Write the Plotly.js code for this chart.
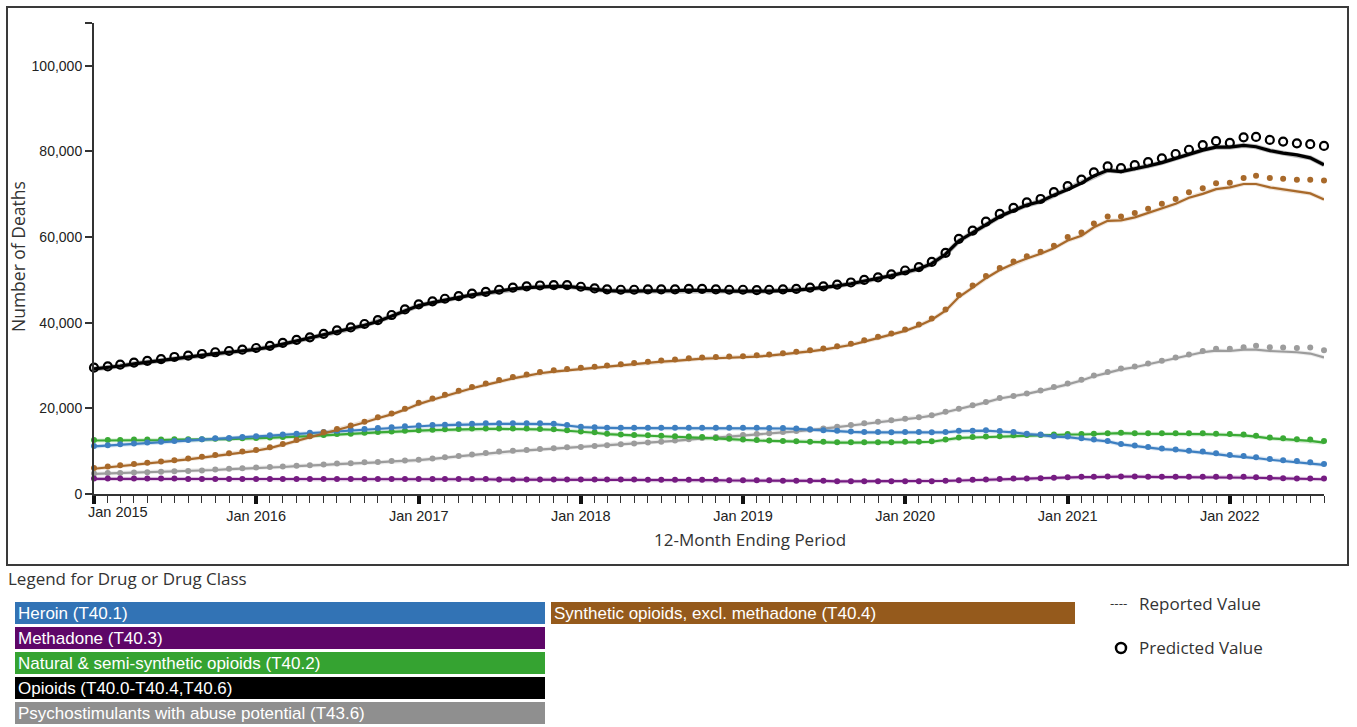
<!DOCTYPE html>
<html>
<head>
<meta charset="utf-8">
<script src="https://cdn.plot.ly/plotly-3.0.1.min.js"></script>
<style>
  html, body { margin: 0; padding: 0; background: #fff; }
  #chart { width: 1357px; height: 727px; }
</style>
</head>
<body>
<div id="chart"></div>
<script>
// 12-month ending periods, Jan 2015 through Aug 2022 (monthly)
const firstPeriod = [2015, 1];
const periodCount = 92;
const periods = [];
for (let i = 0; i < periodCount; i++) {
  const m = firstPeriod[1] - 1 + i;
  const y = firstPeriod[0] + Math.floor(m / 12);
  const mm = (m % 12) + 1;
  periods.push(y + '-' + (mm < 10 ? '0' : '') + mm + '-01');
}

const yearTickValues = ['2015-01-01','2016-01-01','2017-01-01','2018-01-01','2019-01-01','2020-01-01','2021-01-01','2022-01-01'];
const yearTickLabels = ['', 'Jan 2016', 'Jan 2017', 'Jan 2018', 'Jan 2019', 'Jan 2020', 'Jan 2021', 'Jan 2022'];
const firstYearLabel = 'Jan 2015';

const deathTickValues = [0, 20000, 40000, 60000, 80000, 100000, 110000];
const deathTickLabels = ['0', '20,000', '40,000', '60,000', '80,000', '100,000', ''];

// Heroin (T40.1)
const heroinPredicted = [
  11200,11400,11600,11800,12000,12200,12400,12600,12800,13000,13100,13300,
  13500,13700,13900,14100,14300,14500,14800,15000,15200,15400,15600,15800,
  16000,16100,16200,16300,16400,16500,16500,16500,16500,16500,16400,16100,
  15700,15600,15500,15500,15500,15500,15500,15500,15500,15500,15500,15500,
  15500,15500,15400,15400,15300,15100,14900,14800,14600,14500,14500,14400,
  14500,14500,14400,14500,14800,14800,14900,14700,14500,14100,13900,13500,
  13400,13000,12700,12400,11700,11300,11000,10600,10400,10100,9900,9500,
  9100,8900,8600,8200,7900,7700,7400,7000];
const heroinReported = [
  11100,11300,11500,11700,11900,12100,12300,12500,12700,12900,13000,13200,
  13400,13600,13800,14000,14200,14400,14700,14900,15100,15300,15500,15700,
  15900,16000,16100,16200,16300,16400,16400,16400,16400,16400,16300,16000,
  15600,15500,15400,15400,15400,15400,15400,15400,15400,15400,15400,15400,
  15400,15400,15300,15300,15200,15000,14800,14700,14500,14400,14400,14300,
  14400,14400,14300,14400,14700,14700,14800,14600,14400,14000,13800,13400,
  13300,12900,12600,12300,11600,11200,10900,10500,10300,10000,9700,9300,
  8900,8700,8400,8000,7700,7500,7200,6800];

// Methadone (T40.3)
const methadonePredicted = [
  3600,3600,3600,3600,3600,3600,3600,3500,3500,3500,3500,3500,
  3500,3500,3500,3500,3500,3500,3500,3500,3500,3500,3500,3500,
  3500,3500,3500,3500,3500,3500,3400,3400,3400,3400,3400,3400,
  3400,3400,3400,3400,3400,3300,3300,3300,3300,3300,3300,3200,
  3200,3200,3200,3100,3100,3100,3100,3000,3000,3000,3000,3000,
  3000,3000,3000,3100,3200,3300,3400,3500,3600,3600,3700,3800,
  3900,4000,4000,4100,4100,4100,4000,4000,4000,4000,4000,4000,
  4000,4000,3900,3800,3700,3600,3600,3600];
const methadoneReported = [
  3550,3550,3550,3550,3550,3550,3550,3450,3450,3450,3450,3450,
  3450,3450,3450,3450,3450,3450,3450,3450,3450,3450,3450,3450,
  3450,3450,3450,3450,3450,3450,3350,3350,3350,3350,3350,3350,
  3350,3350,3350,3350,3350,3250,3250,3250,3250,3250,3250,3150,
  3150,3150,3150,3050,3050,3050,3050,2950,2950,2950,2950,2950,
  2950,2950,2950,3050,3150,3250,3350,3450,3550,3550,3650,3750,
  3850,3950,3950,4050,4050,4050,3950,3950,3950,3950,3950,3900,
  3900,3900,3800,3700,3600,3500,3500,3450];

// Natural & semi-synthetic opioids (T40.2)
const naturalPredicted = [
  12600,12600,12600,12700,12700,12700,12800,12800,12800,12900,12900,13000,
  13100,13200,13300,13500,13600,13800,14000,14100,14300,14500,14600,14800,
  14900,15000,15100,15200,15300,15300,15300,15300,15300,15200,15100,14900,
  14600,14400,14100,13900,13800,13700,13600,13500,13400,13300,13100,12900,
  12700,12600,12500,12400,12300,12200,12200,12100,12100,12100,12100,12100,
  12200,12200,12300,12700,13200,13300,13400,13500,13700,13800,13800,13900,
  14000,14000,14100,14200,14300,14200,14200,14200,14200,14200,14200,14100,
  14000,13900,13600,13200,13000,12800,12700,12400];
const naturalReported = [
  12500,12500,12500,12600,12600,12600,12700,12700,12700,12800,12800,12900,
  13000,13100,13200,13400,13500,13700,13900,14000,14200,14400,14500,14700,
  14800,14900,15000,15100,15200,15200,15200,15200,15200,15100,15000,14800,
  14500,14300,14000,13800,13700,13600,13500,13400,13300,13200,13000,12800,
  12600,12500,12400,12300,12200,12100,12100,12000,12000,12000,12000,12000,
  12100,12100,12200,12600,13100,13200,13300,13400,13600,13700,13700,13800,
  13900,13900,14000,14100,14200,14100,14100,14100,14100,14100,14000,13900,
  13800,13700,13400,13000,12800,12600,12400,12000];

// Opioids (T40.0-T40.4,T40.6)
const opioidsPredicted = [
  29500,29800,30200,30700,31100,31500,32000,32300,32700,33100,33400,33700,
  34100,34600,35300,36000,36600,37400,38200,38900,39700,40600,41800,43100,
  44300,45000,45600,46200,46800,47200,47700,48200,48500,48700,48800,48800,
  48400,48000,47800,47700,47700,47800,47800,47800,47900,47900,47800,47700,
  47700,47600,47700,47800,47900,48200,48500,48900,49400,50000,50600,51300,
  52200,53000,54200,56300,59600,61500,63600,65400,66800,68100,68900,70500,
  71900,73400,75100,76500,76100,76800,77500,78400,79400,80400,81500,82400,
  82000,83300,83400,82700,82300,81900,81700,81300];
const opioidsReported = [
  29200,29500,29900,30400,30800,31200,31700,32000,32400,32800,33100,33400,
  33800,34300,35000,35700,36300,37100,37900,38600,39400,40300,41500,42800,
  44000,44700,45300,45900,46500,46900,47400,47900,48200,48400,48500,48500,
  48100,47700,47500,47400,47400,47500,47500,47500,47600,47600,47500,47400,
  47400,47300,47400,47500,47600,47900,48200,48600,49100,49700,50300,51000,
  51800,52600,53800,56000,59100,61000,63000,64800,66200,67500,68300,69800,
  71100,72600,74300,75600,75300,75900,76600,77400,78400,79300,80300,81000,
  81000,81400,81100,80200,79600,79200,78500,76900];

// Psychostimulants with abuse potential (T43.6)
const psychoPredicted = [
  4800,4900,4900,5000,5100,5200,5300,5400,5500,5700,5900,6000,
  6200,6300,6400,6600,6700,6900,7100,7200,7400,7500,7700,7800,
  8000,8300,8600,8900,9200,9600,9900,10100,10300,10500,10700,10900,
  11000,11200,11400,11600,11800,12000,12200,12500,12800,13100,13300,13500,
  13800,14000,14200,14500,14700,15000,15300,15700,16100,16500,16900,17200,
  17600,17900,18400,19200,19900,20700,21500,22400,22900,23500,24200,25000,
  25800,26700,27700,28500,29300,29800,30500,31100,31900,32600,33400,33900,
  33900,34300,34600,34300,34200,34100,34200,33600];
const psychoReported = [
  4700,4800,4800,4900,5000,5100,5200,5300,5400,5600,5800,5900,
  6100,6200,6300,6500,6600,6800,7000,7100,7300,7400,7600,7700,
  7900,8200,8500,8800,9100,9500,9800,10000,10200,10400,10600,10800,
  10900,11100,11300,11500,11700,11900,12100,12400,12700,13000,13200,13400,
  13700,13900,14100,14400,14600,14900,15200,15600,16000,16400,16800,17100,
  17500,17800,18300,19100,19800,20600,21400,22300,22800,23400,24100,24800,
  25600,26500,27500,28300,29100,29600,30300,30900,31700,32400,33100,33500,
  33400,33700,33700,33400,33300,33100,32800,31900];

// Synthetic opioids, excl. methadone (T40.4)
const synthPredicted = [
  6100,6400,6700,7000,7300,7600,7900,8300,8700,9100,9500,9900,
  10300,10900,11700,12600,13500,14400,15200,16000,16900,17900,18800,19900,
  21300,22300,23200,24100,25000,25800,26600,27300,27900,28500,28900,29200,
  29500,29700,30000,30300,30600,30900,31200,31400,31700,31900,32000,32100,
  32200,32400,32600,32900,33200,33600,34000,34500,35100,35900,36700,37500,
  38400,39600,41000,43100,46500,48700,50900,52800,54300,55500,56600,58000,
  60000,61100,63200,64800,64800,65600,66600,67800,68900,70500,71400,72600,
  72700,73800,74300,73800,73600,73400,73400,73200];
const synthReported = [
  5900,6200,6500,6800,7100,7400,7700,8100,8500,8900,9300,9700,
  10100,10700,11500,12400,13300,14200,15000,15800,16700,17700,18600,19700,
  21000,22000,22900,23800,24700,25500,26300,27000,27600,28200,28600,28900,
  29200,29400,29700,30000,30300,30600,30900,31100,31400,31600,31700,31800,
  31900,32100,32300,32600,32900,33300,33700,34200,34800,35600,36400,37200,
  38100,39300,40700,42800,46000,48200,50400,52300,53800,55000,56100,57400,
  59200,60300,62300,63800,63900,64600,65600,66700,67800,69200,70100,71200,
  71600,72400,72400,71600,71100,70700,70200,68800];

// Drug classes: legend label, legend swatch, line colour, series
const drugNames = [
  'Heroin (T40.1)',
  'Methadone (T40.3)',
  'Natural & semi-synthetic opioids (T40.2)',
  'Opioids (T40.0-T40.4,T40.6)',
  'Psychostimulants with abuse potential (T43.6)',
  'Synthetic opioids, excl. methadone (T40.4)'
];
const drugSwatchColors = ['#3273b5', '#5e0668', '#35a331', '#000000', '#8f8f8f', '#955a1c'];
const drugLineColors   = ['#3d7fc1', '#761c82', '#3aaa35', '#000000', '#9c9c9c', '#a8692a'];
const drugReported  = [heroinReported, methadoneReported, naturalReported, opioidsReported, psychoReported, synthReported];
const drugPredicted = [heroinPredicted, methadonePredicted, naturalPredicted, opioidsPredicted, psychoPredicted, synthPredicted];

const legendTitle = 'Legend for Drug or Drug Class';
const reportedLabel = 'Reported Value';
const predictedLabel = 'Predicted Value';
const xTitle = '12-Month Ending Period';
const yTitle = 'Number of Deaths';

// ---- traces: a soft underlay, the reported line, then predicted markers ----
const drawOrder = [4, 1, 2, 0, 5, 3];
const traces = [];
drawOrder.forEach(function (k) {
  const isTotal = k === 3;
  traces.push({
    x: periods, y: drugReported[k], type: 'scatter', mode: 'lines',
    line: { color: drugLineColors[k], width: isTotal ? 5 : 4.2 }, opacity: isTotal ? 0.25 : 0.18,
    hoverinfo: 'skip', showlegend: false, cliponaxis: false
  });
  traces.push({
    x: periods, y: drugReported[k], type: 'scatter', mode: 'lines',
    name: drugNames[k] + ' ' + reportedLabel,
    line: { color: drugLineColors[k], width: isTotal ? 3.2 : 2.2 },
    showlegend: false, cliponaxis: false
  });
  traces.push({
    x: periods, y: drugPredicted[k], type: 'scatter', mode: 'markers',
    name: drugNames[k] + ' ' + predictedLabel,
    marker: isTotal
      ? { symbol: 'circle-open', size: 8, color: '#000', line: { width: 2.2, color: '#000' } }
      : { symbol: 'circle', size: 6, color: drugLineColors[k] },
    showlegend: false, cliponaxis: false
  });
});

// ---- page geometry (pixels -> paper) ----
const W = 1357, H = 727;
const px = function (x) { return x / W; };
const py = function (y) { return 1 - y / H; };

const shapes = [
  { type: 'rect', xref: 'paper', yref: 'paper', x0: px(7), x1: px(1348), y0: py(7), y1: py(565),
    line: { color: '#3a3a3a', width: 2 }, fillcolor: 'rgba(0,0,0,0)', layer: 'below' },
  { type: 'circle', xref: 'paper', yref: 'paper', x0: px(1116), x1: px(1126), y0: py(643), y1: py(653),
    line: { color: '#000', width: 2.5 }, fillcolor: '#fff' }
];
const annotations = [
  { xref: 'paper', yref: 'paper', x: px(118), y: py(512), text: firstYearLabel, showarrow: false,
    xanchor: 'center', yanchor: 'middle', font: { family: 'Liberation Sans, Arial, sans-serif', size: 14.5, color: '#222' } },
  { xref: 'paper', yref: 'paper', x: px(750), y: py(539), text: xTitle, showarrow: false,
    xanchor: 'center', yanchor: 'middle', font: { family: 'Open Sans, sans-serif', size: 17, color: '#333' } },
  { xref: 'paper', yref: 'paper', x: px(18), y: py(257), text: yTitle, showarrow: false, textangle: -90,
    xanchor: 'center', yanchor: 'middle', font: { family: 'Open Sans, sans-serif', size: 17.5, color: '#333' } },
  { xref: 'paper', yref: 'paper', x: px(6), y: py(578), text: legendTitle, showarrow: false,
    xanchor: 'left', yanchor: 'middle', font: { family: 'Open Sans, sans-serif', size: 17, color: '#333' } },
  { xref: 'paper', yref: 'paper', x: px(1108), y: py(603), text: '----', showarrow: false,
    xanchor: 'left', yanchor: 'middle', font: { family: 'Open Sans, sans-serif', size: 13.5, color: '#333' } },
  { xref: 'paper', yref: 'paper', x: px(1137), y: py(603), text: reportedLabel, showarrow: false,
    xanchor: 'left', yanchor: 'middle', font: { family: 'Open Sans, sans-serif', size: 17, color: '#333' } },
  { xref: 'paper', yref: 'paper', x: px(1137), y: py(647), text: predictedLabel, showarrow: false,
    xanchor: 'left', yanchor: 'middle', font: { family: 'Open Sans, sans-serif', size: 17, color: '#333' } }
];

// legend swatches: first five stacked on the left, the sixth to the right
const boxSlots = [
  [15, 545, 602], [15, 545, 627], [15, 545, 652], [15, 545, 677], [15, 545, 702], [551, 1075, 602]
];
drugNames.forEach(function (name, k) {
  const s = boxSlots[k];
  shapes.push({ type: 'rect', xref: 'paper', yref: 'paper', x0: px(s[0]), x1: px(s[1]),
    y0: py(s[2]), y1: py(s[2] + 22), fillcolor: drugSwatchColors[k], line: { width: 0 } });
  annotations.push({ xref: 'paper', yref: 'paper', x: px(s[0] + 1), y: py(s[2] + 11.5), text: name,
    showarrow: false, xanchor: 'left', yanchor: 'middle',
    font: { family: 'Liberation Sans Narrow, Arial Narrow, Liberation Sans, Arial, sans-serif', size: 17, color: '#fff' } });
});

const layout = {
  width: W, height: H,
  margin: { l: 0, r: 0, t: 0, b: 0 },
  paper_bgcolor: '#fff', plot_bgcolor: '#fff',
  showlegend: false,
  hovermode: 'closest',
  xaxis: {
    type: 'date',
    domain: [px(94), px(1324)],
    range: [periods[0], periods[periods.length - 1]],
    tickmode: 'array', tickvals: yearTickValues, ticktext: yearTickLabels,
    ticks: 'outside', ticklen: 8, tickwidth: 4, tickcolor: '#111',
    minor: { ticks: 'outside', dtick: 'M1', tick0: periods[0], ticklen: 7, tickwidth: 1, tickcolor: '#333', showgrid: false },
    showline: true, linecolor: '#333', linewidth: 2,
    showgrid: false, zeroline: false,
    tickfont: { family: 'Liberation Sans, Arial, sans-serif', size: 14.5, color: '#222' },
    fixedrange: true
  },
  yaxis: {
    domain: [py(494), py(23)],
    range: [0, 110000],
    tickmode: 'array', tickvals: deathTickValues, ticktext: deathTickLabels,
    ticks: 'outside', ticklen: 7, tickwidth: 1.5, tickcolor: '#333',
    showline: true, linecolor: '#333', linewidth: 2,
    showgrid: false, zeroline: false,
    tickfont: { family: 'Liberation Sans, Arial, sans-serif', size: 14, color: '#222' },
    fixedrange: true
  },
  shapes: shapes,
  annotations: annotations
};

Plotly.newPlot('chart', traces, layout, { displayModeBar: false, staticPlot: false });
</script>
</body>
</html>
